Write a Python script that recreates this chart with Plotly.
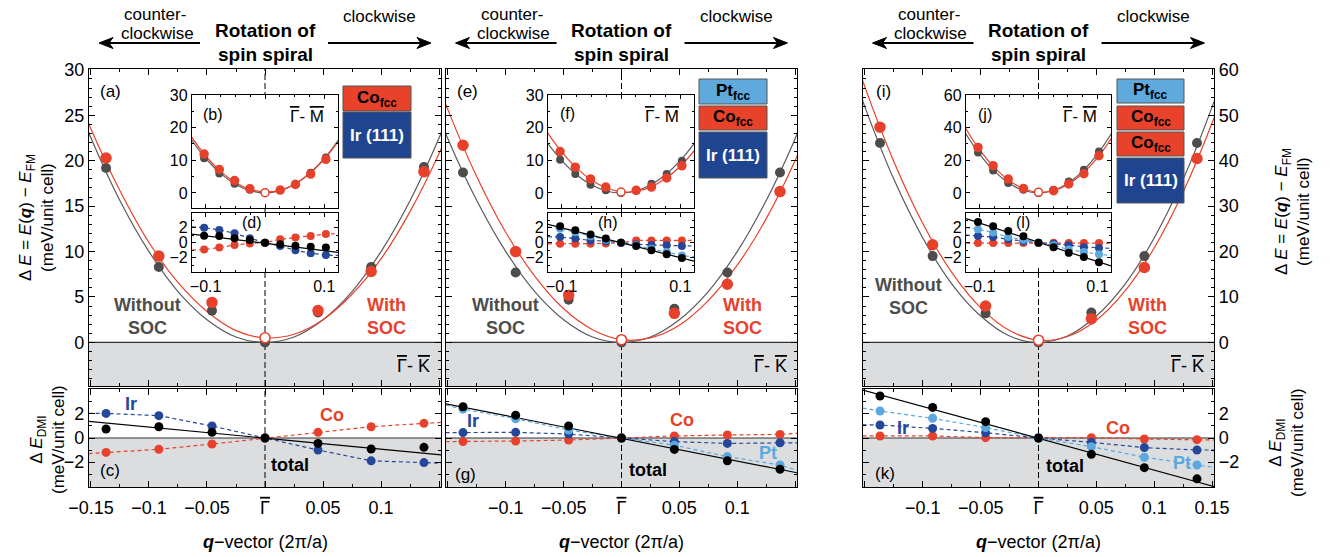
import plotly.graph_objects as go

W, H = 1343, 557
FONT = "Liberation Sans, Arial, sans-serif"

# ---------------- data ----------------
# main panels (Gamma-K direction), q in 2pi/a
Q_MAIN = [-0.137, -0.0915, -0.0457, 0.0, 0.0457, 0.0915, 0.137]
A_NOSOC = [19.2, 8.3, 3.5, 0.0, 3.3, 8.3, 19.3]
A_SOC = [20.3, 9.5, 4.4, 0.5, 3.5, 7.8, 18.8]
E_NOSOC = [18.7, 7.7, 4.7, 0.0, 3.7, 7.7, 18.7]
E_SOC = [21.7, 10.0, 5.2, 0.3, 3.2, 6.4, 16.6]
I_NOSOC = [43.9, 19.0, 6.4, 0.0, 6.6, 19.0, 43.9]
I_SOC = [47.4, 21.5, 8.0, 0.5, 5.2, 16.5, 40.5]

# fitted curves
Q_CURVE = [-0.175, -0.15, -0.125, -0.1, -0.075, -0.05, -0.025, 0.0, 0.025, 0.05, 0.075, 0.1, 0.125, 0.15, 0.175]
A_CURVE_NOSOC = [30.6, 22.5, 15.6, 10.0, 5.6, 2.5, 0.6, 0.0, 0.6, 2.5, 5.6, 10.0, 15.6, 22.5, 30.6]
A_CURVE_SOC = [31.6, 23.5, 16.7, 11.0, 6.6, 3.4, 1.3, 0.5, 0.9, 2.5, 5.3, 9.2, 14.4, 20.8, 28.4]
E_CURVE_NOSOC = [30.5, 22.4, 15.6, 10.0, 5.6, 2.5, 0.6, 0.0, 0.6, 2.5, 5.6, 10.0, 15.6, 22.4, 30.5]
E_CURVE_SOC = [34.2, 25.6, 18.2, 12.1, 7.3, 3.7, 1.4, 0.3, 0.5, 1.9, 4.6, 8.5, 13.6, 20.0, 27.7]
I_CURVE_NOSOC = [70.4, 51.8, 35.9, 23.0, 12.9, 5.8, 1.4, 0.0, 1.4, 5.8, 12.9, 23.0, 35.9, 51.8, 70.4]
I_CURVE_SOC = [75.6, 56.2, 39.8, 26.2, 15.4, 7.6, 2.6, 0.5, 1.3, 4.9, 11.4, 20.8, 33.1, 48.3, 66.3]

# DMI contributions (bottom panels)
Q_EDGE = [-0.152, 0.152]
C_IR = [2.05, 1.86, 1.0, 0.0, -1.0, -1.9, -2.05]
C_CO = [-1.2, -0.94, -0.5, 0.0, 0.47, 0.94, 1.22]
C_TOT = [0.75, 0.94, 0.47, 0.0, -0.45, -0.92, -0.78]
C_IR_EDGE = [2.05, -2.1]
C_CO_EDGE = [-1.3, 1.3]
C_FIT = [1.38, -1.40]

G_PT = [2.4, 1.6, 0.67, 0.0, -0.6, -1.55, -2.25]
G_IR = [0.45, 0.47, 0.33, 0.0, -0.3, -0.45, -0.4]
G_CO = [-0.3, -0.25, -0.17, 0.0, 0.17, 0.25, 0.3]
G_TOT = [2.6, 1.9, 1.0, 0.0, -0.95, -1.9, -2.6]
G_PT_EDGE = [2.75, -2.7]
G_IR_EDGE = [0.45, -0.4]
G_CO_EDGE = [-0.3, 0.4]
G_FIT = [2.85, -2.9]

K_PT = [2.25, 1.64, 0.86, 0.0, -0.72, -1.6, -2.25]
K_IR = [1.08, 0.8, 0.44, 0.0, -0.36, -0.8, -1.0]
K_CO = [0.17, 0.17, 0.03, 0.0, 0.03, -0.08, -0.14]
K_TOT = [3.5, 2.55, 1.36, 0.0, -1.36, -2.47, -3.4]
K_PT_EDGE = [2.5, -2.45]
K_IR_EDGE = [1.1, -1.0]
K_CO_EDGE = [0.17, -0.17]
K_FIT = [4.0, -4.05]

# insets (Gamma-M direction)
Q_INSET = [-0.1026, -0.077, -0.0513, -0.0256, 0.0, 0.0256, 0.0513, 0.077, 0.1026]
Q_CURVE_IN = [-0.15, -0.125, -0.1, -0.075, -0.05, -0.025, 0.0, 0.025, 0.05, 0.075, 0.1, 0.125, 0.15]
Q_EDGE_IN = [-0.123, 0.123]

B_NOSOC = [10.6, 6.0, 2.8, 1.0, 0.0, 0.8, 2.8, 6.2, 10.9]
B_SOC = [11.9, 7.2, 3.8, 1.3, 0.1, 0.9, 2.6, 5.8, 10.3]
B_CURVE_NOSOC = [23.9, 16.6, 10.6, 6.0, 2.7, 0.7, 0.0, 0.7, 2.7, 6.0, 10.6, 16.6, 23.9]
B_CURVE_SOC = [24.9, 17.5, 11.4, 6.6, 3.2, 1.1, 0.3, 0.8, 2.7, 5.9, 10.4, 16.2, 23.4]
D_IR = [2.0, 1.7, 1.25, 0.6, 0.0, -0.45, -1.0, -1.4, -1.65]
D_CO = [-0.9, -0.65, -0.3, -0.1, 0.0, 0.45, 0.7, 0.9, 1.15]
D_TOT = [0.93, 0.9, 0.6, 0.35, 0.0, -0.2, -0.4, -0.55, -0.65]
D_IR_EDGE = [2.1, -1.7]
D_CO_EDGE = [-1.0, 1.2]
D_FIT = [1.15, -1.3]

F_NOSOC = [10.2, 5.8, 2.5, 0.8, 0.0, 0.7, 2.8, 5.8, 9.9]
F_SOC = [12.7, 7.9, 4.3, 1.8, 0.3, 0.8, 1.8, 4.6, 8.3]
F_CURVE_NOSOC = [22.5, 15.6, 10.0, 5.6, 2.5, 0.6, 0.0, 0.6, 2.5, 5.6, 10.0, 15.6, 22.5]
F_CURVE_SOC = [26.2, 18.8, 12.6, 7.7, 4.0, 1.6, 0.4, 0.5, 1.8, 4.4, 8.2, 13.3, 19.6]
H_PT = [1.85, 1.4, 0.85, 0.4, 0.0, -0.35, -0.8, -1.25, -1.7]
H_IR = [0.75, 0.55, 0.3, 0.2, 0.0, -0.2, -0.3, -0.35, -0.45]
H_CO = [-0.15, -0.15, -0.15, -0.1, 0.0, 0.3, 0.3, 0.3, 0.3]
H_TOT = [2.2, 1.65, 1.1, 0.55, 0.0, -0.45, -1.0, -1.55, -2.05]
H_PT_EDGE = [2.1, -1.9]
H_IR_EDGE = [0.8, -0.45]
H_CO_EDGE = [-0.15, 0.3]
H_FIT = [2.45, -2.45]

J_NOSOC = [24.8, 13.8, 6.1, 2.0, 0.0, 2.0, 7.1, 14.2, 25.4]
J_SOC = [27.9, 16.7, 8.5, 2.8, 0.5, 1.4, 5.5, 11.8, 22.8]
J_CURVE_NOSOC = [53.6, 37.2, 23.8, 13.4, 6.0, 1.5, 0.0, 1.5, 6.0, 13.4, 23.8, 37.2, 53.6]
J_CURVE_SOC = [57.3, 40.5, 26.6, 15.7, 7.7, 2.6, 0.5, 1.4, 5.2, 11.9, 21.6, 34.3, 49.9]
L_PT = [1.8, 1.35, 0.75, 0.4, 0.0, -0.35, -0.9, -1.25, -1.55]
L_IR = [0.9, 0.75, 0.45, 0.2, 0.0, -0.15, -0.35, -0.6, -0.7]
L_CO = [-0.05, -0.05, -0.05, -0.05, 0.0, -0.02, -0.03, -0.05, -0.05]
L_TOT = [2.75, 2.2, 1.55, 0.85, 0.0, -0.6, -1.35, -1.9, -2.6]
L_PT_EDGE = [2.0, -1.7]
L_IR_EDGE = [1.0, -0.75]
L_CO_EDGE = [-0.05, -0.05]
L_FIT = [3.2, -3.1]

GAMMA = '<span style="text-decoration:overline">Γ</span>'
X_TICKS = [-0.15, -0.1, -0.05, 0.0, 0.05, 0.1, 0.15]
X_TEXT_C = ["−0.15", "−0.1", "−0.05", GAMMA, "0.05", "0.1", " "]
X_TEXT_G = [" ", "−0.1", "−0.05", GAMMA, "0.05", "0.1", " "]
X_TEXT_K = [" ", "−0.1", "−0.05", GAMMA, "0.05", "0.1", "0.15"]

# ---------------- style ----------------
RED = "#E8412B"
GRAY = "#4D4D4D"
GRAYLINE = "#5A5A5A"
BLUE = "#24479A"
LBLUE = "#5BA8DE"
SHADE = "#DCDDDF"
BOX_RED = "#E8432A"
BOX_BLUE = "#1F4590"
BOX_LBLUE = "#5FA9DD"

PANEL_X = [(89, 441), (446, 797), (863, 1214)]
INSET_X = [(192, 338), (548, 694), (966, 1111)]
TOP_Y = (69, 386)
BOT_Y = (389, 487)
INS_TOP_Y = (95, 208)
INS_BOT_Y = (213, 272)


def dx(a, b):
    return [a / W, b / W]


def dy(top, bot):
    return [1 - bot / H, 1 - top / H]


def axid(n):
    return ("x" if n == 1 else f"x{n}", "y" if n == 1 else f"y{n}")


def base_axis(size=18, ticklen=6, **kw):
    d = dict(showline=True, linecolor="black", linewidth=1.4, mirror="allticks",
             ticks="inside", ticklen=ticklen, tickwidth=1.1, tickcolor="black",
             showgrid=False, zeroline=False, fixedrange=True, automargin=False,
             tickfont=dict(size=size, family=FONT, color="black"))
    d.update(kw)
    return d


def minor(dt, ln=3):
    return dict(ticks="inside", ticklen=ln, tickmode="linear", tick0=0, dtick=dt,
                tickcolor="black", tickwidth=1, showgrid=False)


layout = {}
shapes = []
annotations = []

MAIN_XR = [-0.1517, 0.1517]
INS_XR = [-0.123, 0.123]
TOP_YR = [[-4.8, 30.1], [-4.8, 30.1], [-9.6, 60.2]]
BOT_YR = [-4.08, 4.08]
INS_TOP_YR = [[-4.6, 30], [-4.6, 30], [-9.2, 60]]
INS_BOT_YR = [-3.9, 3.95]

for p in range(3):
    n = p + 1
    xa, ya = axid(n)
    layout["xaxis" + ("" if n == 1 else str(n))] = base_axis(
        domain=dx(*PANEL_X[p]), anchor=ya, range=MAIN_XR, tickmode="array",
        tickvals=X_TICKS, showticklabels=False, minor=minor(0.025))
    yk = dict(domain=dy(*TOP_Y), anchor=xa, range=TOP_YR[p], tickmode="linear", tick0=0,
              dtick=10 if p == 2 else 5, minor=minor(2 if p == 2 else 1),
              showticklabels=(p != 1), side="right" if p == 2 else "left")
    layout["yaxis" + ("" if n == 1 else str(n))] = base_axis(**yk)

    n = p + 4
    xa, ya = axid(n)
    layout[f"xaxis{n}"] = base_axis(
        domain=dx(*PANEL_X[p]), anchor=ya, range=MAIN_XR, tickmode="array",
        tickvals=X_TICKS, ticktext=[X_TEXT_C, X_TEXT_G, X_TEXT_K][p],
        minor=minor(0.025), ticklabelstandoff=4)
    layout[f"yaxis{n}"] = base_axis(
        domain=dy(*BOT_Y), anchor=xa, range=BOT_YR, tickmode="array",
        tickvals=[-2, 0, 2], minor=minor(1), showticklabels=(p != 1),
        side="right" if p == 2 else "left")

    n = p + 7
    xa, ya = axid(n)
    layout[f"xaxis{n}"] = base_axis(
        size=16, ticklen=4, domain=dx(*INSET_X[p]), anchor=ya, range=INS_XR,
        tickmode="array", tickvals=[-0.1, 0, 0.1], showticklabels=False,
        minor=minor(0.025, 2), linewidth=1.3)
    layout[f"yaxis{n}"] = base_axis(
        size=16, ticklen=4, domain=dy(*INS_TOP_Y), anchor=xa, range=INS_TOP_YR[p],
        tickmode="array", tickvals=[0, 20, 40, 60] if p == 2 else [0, 10, 20, 30],
        minor=minor(10 if p == 2 else 5, 2), linewidth=1.3)

    n = p + 10
    xa, ya = axid(n)
    layout[f"xaxis{n}"] = base_axis(
        size=16, ticklen=4, domain=dx(*INSET_X[p]), anchor=ya, range=INS_XR,
        tickmode="array", tickvals=[-0.1, 0, 0.1], ticktext=["−0.1", " ", "0.1"],
        minor=minor(0.025, 2), linewidth=1.3)
    layout[f"yaxis{n}"] = base_axis(
        size=16, ticklen=4, domain=dy(*INS_BOT_Y), anchor=xa, range=INS_BOT_YR,
        tickmode="array", tickvals=[-2, 0, 2], minor=minor(1, 2), linewidth=1.3)

all_ranges = {}
for p in range(3):
    all_ranges[p + 1] = TOP_YR[p][0]
    all_ranges[p + 4] = BOT_YR[0]
    all_ranges[p + 7] = INS_TOP_YR[p][0]
    all_ranges[p + 10] = INS_BOT_YR[0]

for n, ymin in all_ranges.items():
    xa, ya = axid(n)
    shapes.append(dict(type="rect", xref=f"{xa} domain", yref=ya, x0=0, x1=1, y0=ymin, y1=0,
                       fillcolor=SHADE, line=dict(width=0), layer="below"))
    shapes.append(dict(type="line", xref=f"{xa} domain", yref=ya, x0=0, x1=1, y0=0, y1=0,
                       line=dict(color="#333333", width=1.2), layer="below"))
    shapes.append(dict(type="line", xref=xa, yref=f"{ya} domain", x0=0, x1=0, y0=0, y1=1,
                       line=dict(color="black", width=1, dash="6px,3px"), layer="below"))

fig = go.Figure()


def add_energy(n, q, nosoc, soc, qc, cn, cs, msize):
    xa, ya = axid(n)
    fig.add_trace(go.Scatter(x=qc, y=cn, mode="lines", line=dict(color=GRAYLINE, width=1.2, shape="spline"),
                             xaxis=xa, yaxis=ya, showlegend=False, hoverinfo="skip"))
    fig.add_trace(go.Scatter(x=qc, y=cs, mode="lines", line=dict(color=RED, width=1.2, shape="spline"),
                             xaxis=xa, yaxis=ya, showlegend=False, hoverinfo="skip"))
    fig.add_trace(go.Scatter(x=q, y=nosoc, mode="markers", marker=dict(color=GRAY, size=msize),
                             xaxis=xa, yaxis=ya, showlegend=False))
    fills = ["white" if v == 0 else RED for v in q]
    fig.add_trace(go.Scatter(x=q, y=soc, mode="markers",
                             marker=dict(color=fills, size=msize, line=dict(color=RED, width=1.5)),
                             xaxis=xa, yaxis=ya, showlegend=False))


def add_dmi(n, q, qedge, comps, fit, tot, msize):
    xa, ya = axid(n)
    for vals, edge, col in comps:
        fig.add_trace(go.Scatter(x=[qedge[0]] + q + [qedge[1]], y=[edge[0]] + vals + [edge[1]],
                                 mode="lines", line=dict(color=col, width=1.2, dash="4px,3px"),
                                 xaxis=xa, yaxis=ya, showlegend=False, hoverinfo="skip"))
    fig.add_trace(go.Scatter(x=qedge, y=fit, mode="lines", line=dict(color="black", width=1.2),
                             xaxis=xa, yaxis=ya, showlegend=False, hoverinfo="skip"))
    for vals, edge, col in comps:
        fig.add_trace(go.Scatter(x=q, y=vals, mode="markers", marker=dict(color=col, size=msize),
                                 xaxis=xa, yaxis=ya, showlegend=False))
    fig.add_trace(go.Scatter(x=q, y=tot, mode="markers", marker=dict(color="black", size=msize),
                             xaxis=xa, yaxis=ya, showlegend=False))


add_energy(1, Q_MAIN, A_NOSOC, A_SOC, Q_CURVE, A_CURVE_NOSOC, A_CURVE_SOC, 10)
add_energy(2, Q_MAIN, E_NOSOC, E_SOC, Q_CURVE, E_CURVE_NOSOC, E_CURVE_SOC, 10)
add_energy(3, Q_MAIN, I_NOSOC, I_SOC, Q_CURVE, I_CURVE_NOSOC, I_CURVE_SOC, 10)

add_dmi(4, Q_MAIN, Q_EDGE, [(C_CO, C_CO_EDGE, RED), (C_IR, C_IR_EDGE, BLUE)], C_FIT, C_TOT, 9)
add_dmi(5, Q_MAIN, Q_EDGE, [(G_CO, G_CO_EDGE, RED), (G_IR, G_IR_EDGE, BLUE), (G_PT, G_PT_EDGE, LBLUE)],
        G_FIT, G_TOT, 9)
add_dmi(6, Q_MAIN, Q_EDGE, [(K_CO, K_CO_EDGE, RED), (K_IR, K_IR_EDGE, BLUE), (K_PT, K_PT_EDGE, LBLUE)],
        K_FIT, K_TOT, 9)

add_energy(7, Q_INSET, B_NOSOC, B_SOC, Q_CURVE_IN, B_CURVE_NOSOC, B_CURVE_SOC, 8)
add_energy(8, Q_INSET, F_NOSOC, F_SOC, Q_CURVE_IN, F_CURVE_NOSOC, F_CURVE_SOC, 8)
add_energy(9, Q_INSET, J_NOSOC, J_SOC, Q_CURVE_IN, J_CURVE_NOSOC, J_CURVE_SOC, 8)

add_dmi(10, Q_INSET, Q_EDGE_IN, [(D_CO, D_CO_EDGE, RED), (D_IR, D_IR_EDGE, BLUE)], D_FIT, D_TOT, 8)
add_dmi(11, Q_INSET, Q_EDGE_IN, [(H_CO, H_CO_EDGE, RED), (H_IR, H_IR_EDGE, BLUE), (H_PT, H_PT_EDGE, LBLUE)],
        H_FIT, H_TOT, 8)
add_dmi(12, Q_INSET, Q_EDGE_IN, [(L_CO, L_CO_EDGE, RED), (L_IR, L_IR_EDGE, BLUE), (L_PT, L_PT_EDGE, LBLUE)],
        L_FIT, L_TOT, 8)


# ---------------- annotations ----------------
def ann(x, y, text, size=18, color="black", angle=0, xanchor="center"):
    return dict(x=x / W, y=1 - y / H, xref="paper", yref="paper", text=text, showarrow=False,
                font=dict(size=size, color=color, family=FONT), textangle=angle,
                xanchor=xanchor, yanchor="middle")


def arrow_shapes(tip, tail, y):
    s = 1 if tail > tip else -1  # direction from tip toward tail
    line = dict(type="line", xref="paper", yref="paper", x0=(tip + s * 8) / W, x1=tail / W,
                y0=1 - y / H, y1=1 - y / H, line=dict(color="black", width=2), layer="above")
    pts = [(tip, y), (tip + s * 14, y - 5.5), (tip + s * 10, y), (tip + s * 14, y + 5.5)]
    path = "M " + " L ".join(f"{px / W:.5f},{1 - py / H:.5f}" for px, py in pts) + " Z"
    head = dict(type="path", xref="paper", yref="paper", path=path, fillcolor="black",
                line=dict(color="black", width=1), layer="above")
    return [line, head]


CENTERS = [265, 621.5, 1038.5]
for cx in CENTERS:
    annotations += [
        ann(cx - 110, 14, "counter-", 17),
        ann(cx - 108, 33, "clockwise", 17),
        ann(cx, 31, "<b>Rotation of</b>", 19),
        ann(cx, 54, "<b>spin spiral</b>", 19),
        ann(cx + 115, 17, "clockwise", 17),
        ann(cx, 542, "<b><i>q</i></b>−vector (2π/a)", 18),
    ]
    shapes += arrow_shapes(cx - 166, cx - 65, 43)
    shapes += arrow_shapes(cx + 166, cx + 63, 43)

annotations += [
    ann(110, 91, "(a)", 17), ann(467, 91, "(e)", 17), ann(883, 91, "(i)", 17),
    ann(213, 114, "(b)", 16), ann(567, 113, "(f)", 16), ann(985, 114, "(j)", 16),
    ann(252, 222, "(d)", 16), ann(608, 222, "(h)", 16), ann(1023, 222, "(l)", 16),
    ann(110, 470, "(c)", 17), ann(465, 474, "(g)", 17), ann(885, 473, "(k)", 17),
]
OL = '<span style="text-decoration:overline">%s</span>'
for x in (307, 662, 1080):
    annotations.append(ann(x, 117, OL % "Γ" + "- " + OL % "M", 17))
for x in (413, 770, 1187):
    annotations.append(ann(x, 366, OL % "Γ" + "- " + OL % "K", 18))

annotations += [
    ann(147, 316, "<b>Without<br>SOC</b>", 18, GRAY),
    ann(386, 316, "<b>With<br>SOC</b>", 18, RED),
    ann(505, 316, "<b>Without<br>SOC</b>", 18, GRAY),
    ann(742, 316, "<b>With<br>SOC</b>", 18, RED),
    ann(908, 296, "<b>Without<br>SOC</b>", 18, GRAY),
    ann(1147, 316, "<b>With<br>SOC</b>", 18, RED),
]

annotations += [
    ann(131, 404, "<b>Ir</b>", 18, BLUE), ann(332, 415, "<b>Co</b>", 18, RED),
    ann(290, 465, "<b>total</b>", 18),
    ann(473, 421, "<b>Ir</b>", 18, BLUE), ann(682, 420, "<b>Co</b>", 18, RED),
    ann(768, 453, "<b>Pt</b>", 18, LBLUE), ann(648, 470, "<b>total</b>", 18),
    ann(903, 428, "<b>Ir</b>", 18, BLUE), ann(1118, 428, "<b>Co</b>", 18, RED),
    ann(1182, 463, "<b>Pt</b>", 18, LBLUE), ann(1065, 466, "<b>total</b>", 18),
]

YT_TOP = "Δ <i>E</i> = <i>E</i>(<b><i>q</i></b>) − <i>E</i><sub>FM</sub><br>(meV/unit cell)"
YT_BOT = "Δ <i>E</i><sub>DMI</sub><br>(meV/unit cell)"
annotations += [
    ann(37, 218, YT_TOP, 17, angle=-90),
    ann(47, 440, YT_BOT, 17, angle=-90),
    ann(1292, 212, YT_TOP, 17, angle=-90),
    ann(1286, 443, YT_BOT, 17, angle=-90),
]

STACKS = [
    (343, 411, [(86, 111, BOX_RED, "<b>Co<sub>fcc</sub></b>", "black"),
                (112, 158, BOX_BLUE, "<b>Ir (111)</b>", "white")]),
    (699, 767, [(79, 104, BOX_LBLUE, "<b>Pt<sub>fcc</sub></b>", "black"),
                (106, 130, BOX_RED, "<b>Co<sub>fcc</sub></b>", "black"),
                (132, 178, BOX_BLUE, "<b>Ir (111)</b>", "white")]),
    (1117, 1184, [(79, 103, BOX_LBLUE, "<b>Pt<sub>fcc</sub></b>", "black"),
                  (106, 130, BOX_RED, "<b>Co<sub>fcc</sub></b>", "black"),
                  (132, 156, BOX_RED, "<b>Co<sub>fcc</sub></b>", "black"),
                  (158, 203, BOX_BLUE, "<b>Ir (111)</b>", "white")]),
]
for x0, x1, boxes in STACKS:
    for y0, y1, col, label, tcol in boxes:
        shapes.append(dict(type="rect", xref="paper", yref="paper", x0=x0 / W, x1=x1 / W,
                           y0=1 - y1 / H, y1=1 - y0 / H, fillcolor=col,
                           line=dict(color="#555555", width=1), layer="above"))
        annotations.append(ann((x0 + x1) / 2, (y0 + y1) / 2, label, 17, tcol))

fig.update_layout(
    width=W, height=H, margin=dict(l=0, r=0, t=0, b=0),
    paper_bgcolor="white", plot_bgcolor="white", showlegend=False,
    font=dict(family=FONT, size=18, color="black"),
    shapes=shapes, annotations=annotations, **layout,
)

fig.write_html("out.html", config={"displayModeBar": False},
               post_script="document.body.style.margin='0';document.body.style.overflow='hidden';")
